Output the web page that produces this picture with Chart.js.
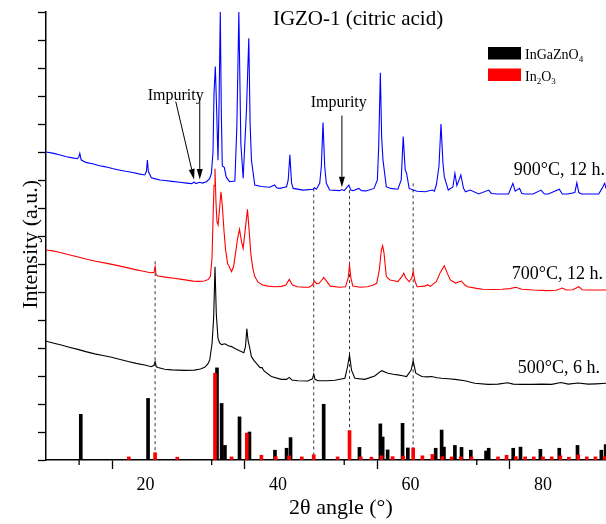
<!DOCTYPE html>
<html><head><meta charset="utf-8">
<script src="https://cdn.jsdelivr.net/npm/chart.js@4.4.1/dist/chart.umd.min.js"></script>
<style>html,body{margin:0;padding:0;background:#fff;}#wrap{width:606px;height:524px;}</style>
</head><body><div id="wrap"><canvas id="c" width="606" height="524"></canvas></div>
<script>
// ---- axis ticks ----
const xTickValues = [10,20,30,40,50,60,70,80];
const yTickStep = 1;

// ---- XRD patterns [2theta, offset intensity] ----
const blue900 = [[5.0,11.0],[6.0,10.96],[7.0,10.9],[8.1,10.83],[9.0,10.79],[9.7,10.76],[9.95,10.82],[10.1,10.95],[10.3,10.72],[11.0,10.63],[12.0,10.58],[13.1,10.51],[14.0,10.47],[15.0,10.41],[16.0,10.36],[17.0,10.31],[18.1,10.27],[19.0,10.22],[19.9,10.18],[20.15,10.3],[20.3,10.71],[20.45,10.3],[20.9,10.08],[21.5,10.04],[22.2,10.0],[23.0,9.98],[24.0,9.95],[25.2,9.92],[26.2,9.89],[27.0,9.87],[27.35,9.93],[27.6,9.87],[28.2,9.92],[28.6,9.89],[29.2,9.94],[29.7,10.05],[29.96,10.24],[30.2,11.0],[30.35,13.1],[30.55,14.05],[30.75,12.5],[30.95,10.71],[31.1,12.5],[31.3,16.0],[31.45,12.5],[31.6,10.5],[31.9,10.45],[32.2,10.1],[32.7,9.94],[33.5,9.96],[33.8,11.9],[34.1,16.0],[34.4,11.3],[34.75,10.06],[35.25,12.5],[35.6,15.06],[35.8,12.0],[36.0,10.71],[36.5,9.82],[37.5,9.77],[38.75,9.74],[39.5,9.82],[39.8,9.72],[40.3,9.7],[41.3,9.76],[41.55,10.0],[41.8,10.9],[42.05,9.9],[42.3,9.7],[43.8,9.64],[45.3,9.67],[45.5,9.72],[45.8,9.67],[46.3,9.88],[46.55,10.5],[46.8,12.05],[47.05,10.5],[47.3,9.88],[47.8,9.64],[49.3,9.62],[49.65,9.66],[50.0,9.62],[50.7,9.82],[51.0,9.64],[51.3,9.62],[52.2,9.7],[52.6,9.62],[53.3,9.61],[54.5,9.7],[55.0,10.0],[55.2,11.2],[55.45,13.83],[55.65,11.5],[55.85,10.71],[56.35,9.76],[57.0,9.7],[58.1,9.67],[58.6,10.0],[58.9,11.55],[59.2,10.36],[59.4,10.25],[59.8,9.7],[60.4,9.64],[61.0,9.6],[62.2,9.58],[63.3,9.64],[63.6,9.6],[63.9,9.82],[64.3,10.5],[64.6,12.0],[64.9,10.6],[65.1,10.12],[65.7,9.64],[66.4,9.75],[66.7,10.24],[67.0,9.8],[67.6,10.18],[68.0,9.7],[68.3,9.58],[69.0,9.64],[70.3,9.5],[71.8,9.64],[72.2,9.52],[73.2,9.5],[74.8,9.5],[75.45,9.88],[75.8,9.6],[76.45,9.7],[76.8,9.52],[77.3,9.5],[78.5,9.5],[79.7,9.64],[80.2,9.5],[80.8,9.5],[82.45,9.67],[82.9,9.5],[83.7,9.5],[84.8,9.55],[85.1,9.9],[85.4,9.55],[85.8,9.5],[87.0,9.5],[88.4,9.5],[88.9,9.7],[89.3,9.88],[89.5,9.7]];

const red700 = [[5.0,7.5],[6.0,7.47],[7.0,7.42],[8.0,7.36],[9.7,7.26],[11.0,7.18],[12.5,7.1],[14.0,7.03],[15.5,6.96],[17.0,6.88],[18.5,6.8],[19.5,6.75],[20.8,6.69],[21.3,6.7],[21.47,6.9],[21.6,6.62],[21.9,6.57],[23.0,6.53],[24.3,6.49],[25.5,6.45],[27.2,6.39],[28.0,6.38],[28.9,6.39],[29.5,6.45],[29.8,6.55],[30.05,7.2],[30.2,8.57],[30.35,9.8],[30.5,10.4],[30.65,9.2],[30.8,8.5],[30.97,8.39],[31.2,9.0],[31.4,9.58],[31.6,9.1],[31.85,8.21],[32.1,7.5],[32.4,7.02],[33.0,6.73],[33.3,6.9],[33.6,7.38],[33.9,7.9],[34.2,8.24],[34.5,7.8],[34.75,7.56],[35.05,8.2],[35.4,8.95],[35.65,8.2],[35.9,7.38],[36.2,6.85],[36.5,6.55],[37.0,6.35],[37.7,6.25],[38.5,6.21],[39.5,6.19],[40.5,6.2],[41.2,6.25],[41.7,6.45],[42.2,6.25],[42.9,6.19],[44.0,6.17],[44.7,6.17],[45.2,6.25],[45.5,6.39],[45.8,6.3],[46.2,6.31],[46.6,6.42],[46.9,6.52],[47.3,6.4],[47.9,6.21],[49.3,6.17],[50.2,6.19],[50.6,6.5],[50.8,6.96],[51.0,6.5],[51.3,6.21],[52.4,6.17],[53.5,6.19],[54.4,6.25],[54.9,6.31],[55.3,6.8],[55.6,7.5],[55.8,7.65],[56.0,7.4],[56.35,6.55],[56.9,6.43],[57.5,6.4],[58.1,6.37],[58.7,6.55],[59.0,6.67],[59.3,6.5],[59.8,6.37],[60.2,6.5],[60.4,6.75],[60.65,6.4],[61.0,6.19],[62.2,6.21],[62.6,6.26],[63.0,6.2],[63.5,6.3],[63.9,6.37],[64.5,6.7],[65.1,6.94],[65.5,6.7],[66.0,6.43],[66.8,6.32],[67.7,6.39],[68.2,6.25],[68.6,6.19],[70.0,6.13],[70.9,6.1],[72.5,6.09],[73.8,6.1],[75.0,6.12],[75.9,6.17],[76.8,6.1],[78.5,6.07],[80.8,6.05],[82.0,6.06],[82.9,6.14],[83.5,6.07],[84.5,6.08],[85.4,6.19],[85.9,6.08],[86.7,6.07],[88.0,6.07],[89.5,6.07]];

const black500 = [[5.0,4.25],[5.2,4.23],[6.2,4.17],[7.3,4.11],[8.5,4.03],[9.8,3.95],[11.0,3.87],[12.36,3.79],[13.6,3.73],[14.9,3.67],[16.2,3.59],[17.4,3.52],[18.6,3.45],[19.9,3.39],[20.9,3.33],[21.3,3.38],[21.46,3.51],[21.65,3.33],[21.9,3.3],[22.9,3.24],[24.0,3.22],[24.9,3.21],[26.0,3.2],[27.4,3.21],[28.3,3.25],[28.95,3.31],[29.4,3.42],[29.7,3.57],[30.06,4.17],[30.3,5.1],[30.5,6.9],[30.7,5.2],[30.95,4.35],[31.2,4.18],[31.5,4.12],[32.0,4.15],[32.5,4.08],[33.0,4.05],[33.5,3.98],[34.2,3.9],[34.85,3.83],[35.1,4.05],[35.3,4.69],[35.5,4.25],[35.7,4.05],[36.0,3.69],[36.4,3.55],[36.75,3.45],[37.3,3.3],[37.6,3.3],[37.9,3.18],[39.0,2.98],[40.5,2.88],[41.3,2.88],[41.7,2.95],[42.1,2.86],[43.0,2.83],[44.5,2.82],[45.2,2.9],[45.4,3.07],[45.6,2.88],[46.0,2.83],[47.5,2.83],[48.6,2.85],[50.1,2.92],[50.5,3.33],[50.8,3.75],[51.1,3.21],[51.6,2.92],[53.1,2.88],[54.6,3.0],[55.65,3.19],[56.6,3.1],[57.4,3.06],[58.1,3.04],[59.0,3.0],[59.4,2.98],[60.1,3.21],[60.4,3.54],[60.8,3.1],[61.7,2.98],[62.5,2.97],[63.2,2.98],[64.0,2.94],[64.7,2.92],[65.7,2.9],[66.7,2.88],[68.2,2.83],[69.7,2.74],[71.7,2.7],[73.2,2.71],[74.65,2.76],[75.5,2.71],[76.8,2.7],[78.3,2.7],[79.8,2.71],[81.3,2.7],[82.7,2.77],[83.8,2.71],[85.3,2.75],[86.8,2.71],[88.0,2.72],[89.5,2.74]];

// ---- reference patterns (stick positions, heights) ----
const refInGaZnO4 = [[10.25,1.63],[20.4,2.2],[30.8,3.29],[31.5,2.02],[32.0,0.52],[34.2,1.54],[35.7,1.0],[39.55,0.35],[41.3,0.42],[41.9,0.8],[46.9,1.99],[52.3,0.45],[55.45,1.29],[55.8,0.82],[56.55,0.36],[58.8,1.31],[59.6,0.43],[63.8,0.42],[64.7,1.07],[65.05,0.46],[66.7,0.52],[67.7,0.45],[69.1,0.35],[71.4,0.32],[71.8,0.42],[75.5,0.42],[76.6,0.46],[79.6,0.38],[82.45,0.42],[85.2,0.52],[88.8,0.35],[89.45,0.55]];
const refIn2O3 = [[17.5,0.11],[21.46,0.26],[24.8,0.1],[30.5,3.1],[33.0,0.11],[35.3,0.96],[37.5,0.17],[39.66,0.12],[41.67,0.15],[43.6,0.11],[45.4,0.19],[49.0,0.11],[50.8,1.05],[52.5,0.11],[54.1,0.1],[55.6,0.15],[57.3,0.12],[58.9,0.14],[60.4,0.43],[61.8,0.15],[63.3,0.2],[64.8,0.12],[66.2,0.11],[67.6,0.11],[69.2,0.11],[73.2,0.11],[74.5,0.17],[75.9,0.12],[77.3,0.11],[78.6,0.11],[80.0,0.11],[81.3,0.11],[82.6,0.15],[83.9,0.1],[85.3,0.18],[86.6,0.11],[87.9,0.11],[89.3,0.12]];

// ---- dashed guide lines ----
const guideX = [21.46, 45.4, 50.8, 60.4];
const guideTop = [7.1, 9.7, 9.64, 9.88];
const guideBottom = [0.26, 0.19, 1.05, 0.43];

// ---- annotations ----
const curveLabels = ['900°C, 12 h.', '700°C, 12 h.', '500°C, 6 h.'];
const curveLabelPos = [[89.35,10.18],[89.05,6.45],[88.6,3.09]];
const impurityText = 'Impurity';
const impurityPos = [[24.57,12.86],[49.18,12.6]];
const arrowFrom = [[24.58,12.8],[28.2,12.9],[49.65,12.3]];
const arrowTo = [[27.34,10.02],[28.2,10.02],[49.65,9.74]];
const titleText = 'IGZO-1 (citric acid)';
const titlePos = [52.08, 15.54];
const xTitle = '2θ angle (°)';
const yTitle = 'Intensity (a.u.)';
const legendItems = [[['InGaZnO',0],['4',1]], [['In',0],['2',1],['O',0],['3',1]]];

const pts = a => a.map(([x,y]) => ({x, y}));
const SERIF = '"Liberation Serif", "Times New Roman", serif';

const datasets = [
  {type:'line', label:'900°C', data:pts(blue900), borderColor:'#0000ff', borderWidth:1.1, pointRadius:0, tension:0, fill:false},
  {type:'line', label:'700°C', data:pts(red700), borderColor:'#ff0000', borderWidth:1.1, pointRadius:0, tension:0, fill:false},
  {type:'line', label:'500°C', data:pts(black500), borderColor:'#000000', borderWidth:1.1, pointRadius:0, tension:0, fill:false},
  {type:'bar', label:'In2O3', data:pts(refIn2O3), backgroundColor:'#ff0000', barThickness:3, grouped:false, borderWidth:0},
  {type:'bar', label:'InGaZnO4', data:pts(refInGaZnO4), backgroundColor:'#000000', barThickness:3, grouped:false, borderWidth:0}
];
guideX.forEach((gx,i) => datasets.push({type:'line', label:'guide'+i, data:[{x:gx,y:guideTop[i]},{x:gx,y:guideBottom[i]}], borderColor:'#333', borderWidth:1, borderDash:[3,3], pointRadius:0}));

function richText(ctx, parts, x, y, size) {
  let cx = x;
  parts.forEach(([t, sub]) => {
    ctx.font = (sub ? Math.round(size*0.65) : size) + 'px ' + SERIF;
    ctx.fillText(t, cx, sub ? y + size*0.22 : y);
    cx += ctx.measureText(t).width;
  });
}

const deco = {
  id:'deco',
  afterDraw(chart) {
    const {ctx, chartArea:ca} = chart;
    const xs = chart.scales.x, ys = chart.scales.y;
    const P = (v) => [xs.getPixelForValue(v[0]), ys.getPixelForValue(v[1])];
    ctx.save();
    // minor x ticks
    ctx.strokeStyle = '#000'; ctx.lineWidth = 1.3;
    xTickValues.filter(v => v % 20 !== 0).forEach(v => {
      const px = xs.getPixelForValue(v);
      ctx.beginPath(); ctx.moveTo(px, ca.bottom); ctx.lineTo(px, ca.bottom + 5); ctx.stroke();
    });
    // arrows
    ctx.lineWidth = 1; ctx.fillStyle = '#000';
    arrowFrom.forEach((f,i) => {
      const [x1,y1] = P(f), [x2,y2] = P(arrowTo[i]);
      const ang = Math.atan2(y2-y1, x2-x1), L = 10.5, W = 3;
      const bx = x2 - L*Math.cos(ang), by = y2 - L*Math.sin(ang);
      ctx.beginPath(); ctx.moveTo(x1,y1); ctx.lineTo(bx,by); ctx.stroke();
      ctx.beginPath(); ctx.moveTo(x2,y2);
      ctx.lineTo(bx + W*Math.sin(ang), by - W*Math.cos(ang));
      ctx.lineTo(bx - W*Math.sin(ang), by + W*Math.cos(ang));
      ctx.closePath(); ctx.fill();
    });
    ctx.fillStyle = '#000'; ctx.textBaseline = 'alphabetic';
    // title
    ctx.font = '21px ' + SERIF; ctx.textAlign = 'center';
    let p = P(titlePos); ctx.fillText(titleText, p[0], p[1]);
    // impurity labels
    ctx.font = '16px ' + SERIF;
    impurityPos.forEach(ip => { const q = P(ip); ctx.fillText(impurityText, q[0], q[1]); });
    // curve labels
    ctx.font = '18px ' + SERIF; ctx.textAlign = 'right';
    curveLabels.forEach((t,i) => { const q = P(curveLabelPos[i]); ctx.fillText(t, q[0], q[1]); });
    // legend
    ctx.textAlign = 'left';
    const legendColors = ['#000000', '#ff0000'];
    legendItems.forEach((parts,i) => {
      const top = 47 + i*21.5;
      ctx.fillStyle = legendColors[i];
      ctx.fillRect(488, top, 33, 12.5);
      ctx.fillStyle = '#000';
      richText(ctx, parts, 525, top + 12, 14);
    });
    // axis titles
    ctx.font = '22px ' + SERIF; ctx.textAlign = 'center';
    ctx.fillText(xTitle, xs.getPixelForValue(49.5), ca.bottom + 54);
    ctx.save();
    ctx.translate(ca.left - 9, ys.getPixelForValue(7.7));
    ctx.rotate(-Math.PI/2);
    ctx.fillText(yTitle, 0, 0);
    ctx.restore();
    ctx.restore();
  }
};

new Chart(document.getElementById('c'), {
  type:'line',
  data:{datasets},
  options:{
    responsive:false, animation:false, devicePixelRatio:1,
    layout:{padding:{top:12, right:0, left:0, bottom:0}},
    plugins:{legend:{display:false}, tooltip:{enabled:false}, title:{display:false}},
    scales:{
      x:{type:'linear', min:5, max:89.5, offset:false,
        afterBuildTicks:(ax) => { ax.ticks = xTickValues.map(v => ({value:v})); },
        afterFit:(ax) => { ax.height = 64; },
        grid:{drawOnChartArea:false, drawTicks:true, tickLength:9, tickWidth:1.3,
          tickColor:(c) => (c.tick && c.tick.value % 20 === 0) ? '#000' : 'rgba(0,0,0,0)'},
        border:{display:true, color:'#000', width:1.5},
        ticks:{autoSkip:false, maxRotation:0, padding:5, color:'#000', font:{family:SERIF, size:18},
          callback:(v) => (v % 20 === 0 ? String(v) : '')}
      },
      y:{type:'linear', min:0, max:16,
        afterFit:(ax) => { ax.width = 46; },
        grid:{drawOnChartArea:false, drawTicks:true, tickLength:8, tickWidth:1.3, tickColor:'#000'},
        border:{display:true, color:'#000', width:1.5},
        ticks:{display:false, stepSize:yTickStep}
      }
    }
  },
  plugins:[deco]
});
</script>
</body></html>
